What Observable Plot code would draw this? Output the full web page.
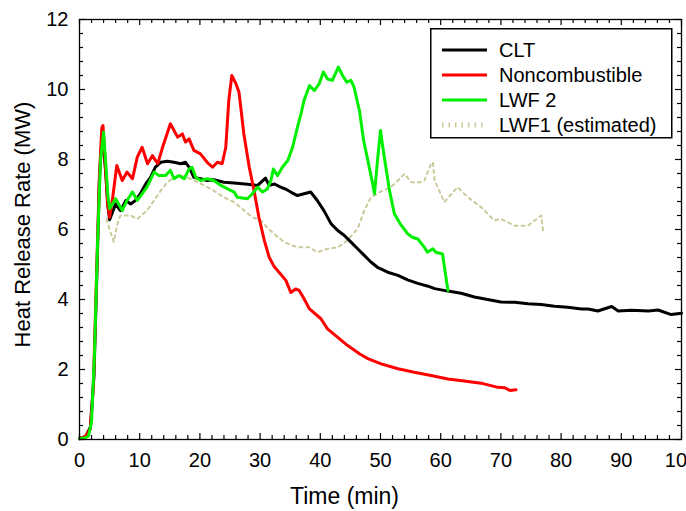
<!DOCTYPE html>
<html><head><meta charset="utf-8">
<script src="https://cdn.jsdelivr.net/npm/d3@7"></script>
<script src="https://cdn.jsdelivr.net/npm/@observablehq/plot@0.6"></script>
<style>
html,body{margin:0;padding:0;background:#fff;}
#wrap{position:relative;width:686px;height:511px;overflow:hidden;font-family:"Liberation Sans",Arial,sans-serif;}
#legend{position:absolute;left:430px;top:28px;}
</style></head><body><div id="wrap"></div>
<script>
// ---- data (time in min, heat release rate in MW) ----
const cltT = [0,1,1.8,2.4,2.9,3.3,3.7,4.0,4.4,4.7,5.0,5.5,6.0,6.8,7.7,8.5,9.3,10.1,11.0,11.8,12.6,13.5,14.6,15.7,16.8,17.6,18.2,19.0,20.1,21.2,22.3,24.0,25.7,27.9,29.6,30.9,31.5,32.4,33.4,34.3,35.1,36.2,37.3,38.4,39.5,40.6,41.8,42.9,44.0,45.1,46.2,47.3,48.4,49.5,51.2,52.9,54.5,56.2,57.9,59.0,61.2,63.4,65.6,67.8,70.0,72.3,74.5,76.7,78.9,81.1,83.4,84.5,86.1,88.4,89.5,91.7,94.5,96.1,98.3,100];
const cltV = [0.03,0.08,0.35,1.8,4.8,7.4,8.6,8.4,7.5,6.7,6.28,6.5,6.73,6.54,6.83,6.73,6.83,7.02,7.3,7.49,7.78,7.92,7.95,7.92,7.88,7.92,7.78,7.49,7.45,7.4,7.42,7.35,7.33,7.29,7.26,7.47,7.26,7.3,7.21,7.15,7.07,6.97,7.02,7.07,6.83,6.54,6.16,5.97,5.83,5.64,5.45,5.26,5.07,4.92,4.78,4.69,4.56,4.46,4.38,4.31,4.24,4.18,4.07,4.0,3.93,3.92,3.88,3.86,3.81,3.78,3.73,3.73,3.67,3.8,3.67,3.69,3.67,3.7,3.57,3.61];

const nonT = [0,1,1.8,2.3,2.8,3.3,3.7,3.9,4.3,4.7,5.0,5.5,6.2,7.1,7.9,8.8,9.6,10.4,11.3,12.1,13.0,13.8,15.1,16.3,17.1,17.6,18.2,19.0,20.1,21.2,22.1,22.9,23.7,24.3,24.8,25.3,26.0,26.5,27.3,28.2,29.0,29.8,30.7,31.5,32.3,33.4,34.3,35.1,35.9,36.5,37.3,38.2,40.1,41.2,42.9,44.5,46.5,47.9,50.1,52.9,55.6,58.4,61.2,63.9,66.7,69.5,70.6,71.5,72.5];
const nonV = [0.02,0.1,0.3,1.5,4.5,7.5,8.9,8.97,7.8,6.7,6.35,6.9,7.83,7.4,7.64,7.45,8.07,8.35,7.88,8.11,7.88,8.35,9.02,8.64,8.73,8.5,8.59,8.26,8.16,7.92,7.78,7.92,7.88,8.35,9.69,10.4,10.16,9.92,8.73,7.78,7.11,6.35,5.69,5.21,4.95,4.73,4.54,4.2,4.3,4.26,4.02,3.73,3.45,3.16,2.92,2.69,2.45,2.31,2.16,2.02,1.92,1.83,1.73,1.67,1.61,1.49,1.48,1.4,1.42];

const lwf2T = [0,1,1.5,2.0,2.5,3.0,3.5,4.0,4.4,4.7,5.0,6.0,7.1,7.9,8.8,9.6,10.4,11.2,12.4,13.2,14.3,15.1,15.7,16.5,17.4,18.2,18.7,19.3,20.1,21.2,22.3,23.5,24.6,25.7,26.2,27.9,28.7,29.6,30.4,31.2,31.8,32.2,32.9,33.7,34.6,35.4,36.2,36.8,37.3,38.2,39.0,39.8,40.5,41.2,42.0,43.0,43.7,44.4,45.1,45.6,46.5,47.2,47.9,48.7,49.0,49.5,50.0,50.6,51.5,52.3,53.4,54.5,55.3,56.2,57.3,57.8,58.7,59.2,60.3,61.2];
const lwf2V = [0.02,0.05,0.1,0.5,2.5,5.6,8.0,8.78,7.8,7.0,6.59,6.88,6.54,6.83,7.07,6.83,7.02,7.21,7.64,7.54,7.54,7.69,7.45,7.54,7.45,7.73,7.78,7.49,7.4,7.45,7.4,7.26,7.16,7.07,6.92,6.88,7.02,7.21,7.07,7.16,7.4,7.73,7.54,7.78,7.97,8.35,8.92,9.31,9.69,10.11,9.97,10.16,10.5,10.3,10.26,10.64,10.4,10.21,10.26,10.07,9.4,8.54,7.97,7.3,7.02,7.97,8.83,8.1,7.11,6.45,6.13,5.88,5.78,5.73,5.49,5.35,5.45,5.35,5.3,4.26];

const lwf1T = [4.5,5.0,5.7,6.2,6.8,8.5,9.6,11.2,12.4,13.5,14.6,15.7,16.8,17.9,19.0,20.7,22.3,24.0,25.7,27.3,28.7,30.1,31.2,32.5,34.0,36.2,38.2,39.5,41.2,42.9,44.5,46.2,47.3,48.4,50.1,51.7,52.3,53.4,54.0,55.1,56.7,57.3,58.4,58.7,59.0,60.6,62.8,64.5,66.7,68.9,70.0,72.3,74.5,76.7,77.0];
const lwf1V = [6.3,6.0,5.64,6.1,6.4,6.4,6.3,6.54,6.83,7.11,7.35,7.49,7.54,7.49,7.4,7.26,7.11,6.92,6.78,6.55,6.35,6.26,6.05,5.85,5.64,5.49,5.49,5.35,5.45,5.49,5.69,6.02,6.54,6.92,7.09,7.21,7.3,7.49,7.59,7.35,7.35,7.4,7.88,7.92,7.4,6.78,7.21,6.92,6.64,6.26,6.3,6.11,6.11,6.4,5.97];

const seriesNames  = ["CLT", "Noncombustible", "LWF 2", "LWF1 (estimated)"];
const seriesColors = ["#000000", "#ff0000", "#00f000", "#cdc99c"];

const xMajorTicks = [0,10,20,30,40,50,60,70,80,90,100];
const xMinorTicks = [2,4,6,8,12,14,16,18,22,24,26,28,32,34,36,38,42,44,46,48,52,54,56,58,62,64,66,68,72,74,76,78,82,84,86,88,92,94,96,98];
const yMajorTicks = [0,2,4,6,8,10,12];
const yMinorTicks = [0.4,0.8,1.2,1.6,2.4,2.8,3.2,3.6,4.4,4.8,5.2,5.6,6.4,6.8,7.2,7.6,8.4,8.8,9.2,9.6,10.4,10.8,11.2,11.6];

const xTitle = "Time (min)";
const yTitle = "Heat Release Rate (MW)";

// ---- build ----
const rows = (T, V) => T.map((t, i) => ({t, v: V[i]}));
const clt = rows(cltT, cltV), non = rows(nonT, nonV), lwf2 = rows(lwf2T, lwf2V), lwf1 = rows(lwf1T, lwf1V);

const W = 686, H = 511, mL = 79, mR = 5, mT = 19, mB = 72;
const fw = W - mL - mR, fh = H - mT - mB;
const MAJ = 6, MIN = 4;

const chart = Plot.plot({
  width: W, height: H,
  marginLeft: mL, marginRight: mR, marginTop: mT, marginBottom: mB,
  style: {fontFamily: '"Liberation Sans", Arial, sans-serif', background: "white", color: "black"},
  x: {domain: [0, 100]},
  y: {domain: [0, 12]},
  marks: [
    Plot.line(lwf1, {x: "t", y: "v", stroke: seriesColors[3], strokeWidth: 2, strokeDasharray: "3,4"}),
    Plot.line(clt, {x: "t", y: "v", stroke: seriesColors[0], strokeWidth: 3}),
    Plot.line(non, {x: "t", y: "v", stroke: seriesColors[1], strokeWidth: 3}),
    Plot.line(lwf2, {x: "t", y: "v", stroke: seriesColors[2], strokeWidth: 3}),
    // inward ticks on all four sides
    Plot.tickX(xMajorTicks, {x: d => d, insetTop: fh - MAJ, strokeWidth: 1.2}),
    Plot.tickX(xMinorTicks, {x: d => d, insetTop: fh - MIN, strokeWidth: 1.2}),
    Plot.tickX(xMajorTicks, {x: d => d, insetBottom: fh - MAJ, strokeWidth: 1.2}),
    Plot.tickX(xMinorTicks, {x: d => d, insetBottom: fh - MIN, strokeWidth: 1.2}),
    Plot.tickY(yMajorTicks, {y: d => d, insetRight: fw - MAJ, strokeWidth: 1.2}),
    Plot.tickY(yMinorTicks, {y: d => d, insetRight: fw - MIN, strokeWidth: 1.2}),
    Plot.tickY(yMajorTicks, {y: d => d, insetLeft: fw - MAJ, strokeWidth: 1.2}),
    Plot.tickY(yMinorTicks, {y: d => d, insetLeft: fw - MIN, strokeWidth: 1.2}),
    Plot.axisX({ticks: xMajorTicks, tickSize: 0, tickPadding: 13, fontSize: 20, label: null}),
    Plot.axisY({ticks: yMajorTicks, tickSize: 0, tickPadding: 11, fontSize: 20, label: null}),
    Plot.frame({stroke: "black", strokeWidth: 1.3}),
    Plot.text([xTitle], {text: d => d, frameAnchor: "bottom", textAnchor: "middle", lineAnchor: "middle", dy: 57, dx: -36, fontSize: 23}),
    Plot.text([yTitle], {text: d => d, frameAnchor: "left", textAnchor: "middle", lineAnchor: "middle", dx: -57, dy: -5, rotate: -90, fontSize: 22})
  ]
});
const wrap = document.getElementById("wrap");
wrap.appendChild(chart);

// legend box inside the plot (top right)
const lg = d3.select(wrap).append("svg").attr("id", "legend")
  .attr("width", 244).attr("height", 112);
lg.append("rect").attr("x", 0.75).attr("y", 0.75).attr("width", 241).attr("height", 109)
  .attr("fill", "white").attr("stroke", "black").attr("stroke-width", 1.5);
seriesNames.forEach((name, i) => {
  const cy = 22 + i * 25;
  const ln = lg.append("line").attr("x1", 12).attr("x2", 57).attr("y1", cy).attr("y2", cy)
    .attr("stroke", seriesColors[i]).attr("stroke-width", 3);
  if (i === 3) ln.attr("stroke-width", 5).attr("stroke-dasharray", "1.5,5");
  lg.append("text").attr("x", 69).attr("y", cy).attr("dy", "0.35em")
    .attr("font-family", '"Liberation Sans", Arial, sans-serif').attr("font-size", 20)
    .text(name);
});
</script></body></html>
